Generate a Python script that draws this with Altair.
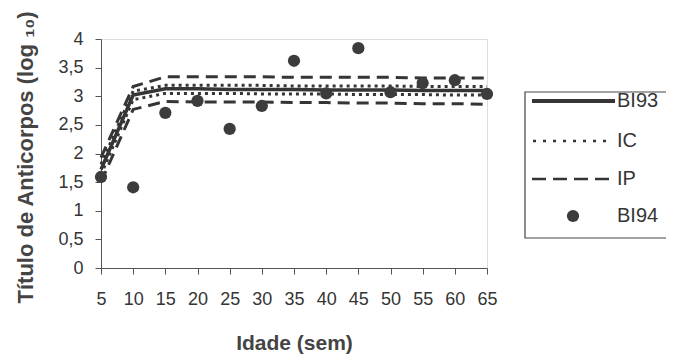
import altair as alt
import pandas as pd

# ---- data ----
ages = [5, 10, 15, 20, 25, 30, 35, 40, 45, 50, 55, 60, 65]
bi94 = [1.59, 1.41, 2.71, 2.92, 2.43, 2.83, 3.62, 3.05, 3.84, 3.07, 3.23, 3.28, 3.04]
bi93 = [1.72, 3.02, 3.13, 3.13, 3.12, 3.12, 3.12, 3.11, 3.11, 3.11, 3.10, 3.10, 3.10]
ic_up = [1.81, 3.09, 3.19, 3.19, 3.19, 3.19, 3.18, 3.18, 3.18, 3.18, 3.17, 3.17, 3.17]
ic_lo = [1.63, 2.94, 3.05, 3.05, 3.05, 3.04, 3.04, 3.04, 3.03, 3.03, 3.03, 3.02, 3.02]
ip_up = [1.93, 3.17, 3.34, 3.34, 3.34, 3.34, 3.33, 3.33, 3.33, 3.33, 3.32, 3.32, 3.32]
ip_lo = [1.50, 2.77, 2.91, 2.90, 2.90, 2.90, 2.89, 2.89, 2.88, 2.88, 2.87, 2.87, 2.86]
y_ticks = [0, 0.5, 1, 1.5, 2, 2.5, 3, 3.5, 4]
legend_labels = ["BI93", "IC", "IP", "BI94"]

INK = "#353535"
FONT = "Liberation Sans"

def long(name, vals):
    return pd.DataFrame({"age": ages, "v": vals, "s": name})

df_pts = pd.DataFrame({"age": ages, "v": bi94})
df_solid = long("BI93", bi93)
df_ic = pd.concat([long("IC_up", ic_up), long("IC_lo", ic_lo)])
df_ip = pd.concat([long("IP_up", ip_up), long("IP_lo", ip_lo)])

W, H = 386, 229

xs = alt.Scale(domain=[5, 65], nice=False, zero=False)
ys = alt.Scale(domain=[0, 4], nice=False)

x_enc = alt.X("age:Q", scale=xs, axis=alt.Axis(
    values=ages, title="Idade (sem)", grid=False, domainColor="#555", tickColor="#555",
    tickSize=6, labelFontSize=18, labelFont=FONT, labelColor=INK, labelPadding=16,
    labelFlush=False, labelOverlap=False, titleFont=FONT, titleFontSize=21,
    titleFontWeight="bold", titleColor="#444", titleY=75, titleBaseline="middle"))
y_enc = alt.Y("v:Q", scale=ys, axis=alt.Axis(
    values=y_ticks, title="Título de Anticorpos (log ₁₀)", grid=False,
    domainColor="#555", tickColor="#555", tickSize=6,
    labelExpr="replace(format(datum.value, '~g'), '.', ',')",
    labelFontSize=18, labelFont=FONT, labelColor=INK, labelPadding=12,
    labelOverlap=False, labelFlush=False,
    titleFont=FONT, titleFontSize=22, titleFontWeight="bold", titleColor="#444",
    titleAngle=270, titleX=-76, titleY=118, titleAlign="center", titleBaseline="middle"))

ip_layer = alt.Chart(df_ip).mark_line(color=INK, strokeWidth=3, strokeDash=[12, 7]).encode(
    x=x_enc, y=y_enc, detail="s:N")
ic_layer = alt.Chart(df_ic).mark_line(color=INK, strokeWidth=3, strokeDash=[3, 4]).encode(
    x=x_enc, y=y_enc, detail="s:N")
solid_layer = alt.Chart(df_solid).mark_line(color=INK, strokeWidth=3.5).encode(
    x=x_enc, y=y_enc)
pts_layer = alt.Chart(df_pts).mark_circle(color="#3c3c3c", opacity=1, size=150).encode(
    x=x_enc, y=y_enc)

# ---- manual legend (pixel positions relative to plot area) ----
one = alt.Data(values=[{"k": 1}])
lx0, ly0 = 424, 53
box = alt.Chart(one).mark_rect(fill="white", stroke="#444", strokeWidth=1.2).encode(
    x=alt.value(lx0), x2=alt.value(lx0 + 144), y=alt.value(ly0), y2=alt.value(ly0 + 146))
rows = [62, 102, 140, 177]
leg_solid = alt.Chart(one).mark_rule(color=INK, strokeWidth=4).encode(
    x=alt.value(431), x2=alt.value(514), y=alt.value(rows[0]))
leg_dot = alt.Chart(one).mark_rule(color=INK, strokeWidth=2.5, strokeDash=[3, 7]).encode(
    x=alt.value(432), x2=alt.value(505), y=alt.value(rows[1]))
leg_dash = alt.Chart(one).mark_rule(color=INK, strokeWidth=2.5, strokeDash=[14, 7]).encode(
    x=alt.value(431), x2=alt.value(513), y=alt.value(rows[2]))
leg_pt = alt.Chart(one).mark_circle(color="#3c3c3c", opacity=1, size=150).encode(
    x=alt.value(472), y=alt.value(rows[3]))
leg_texts = [
    alt.Chart(one).mark_text(text=lab, align="left", baseline="middle", font=FONT,
                             fontSize=20, color=INK).encode(
        x=alt.value(516), y=alt.value(r))
    for lab, r in zip(legend_labels, rows)
]

chart = alt.layer(
    ip_layer, ic_layer, solid_layer, pts_layer,
    box, leg_solid, leg_dot, leg_dash, leg_pt, *leg_texts
).properties(
    width=W, height=H,
    autosize=alt.AutoSizeParams(type="none"),
    padding={"left": 93, "top": 31, "right": 179, "bottom": 91},
).configure_view(stroke=None).configure_axis(labelOverlap=False).configure(background="white")

chart.save("out.html", embed_options={"renderer": "svg", "actions": False})
